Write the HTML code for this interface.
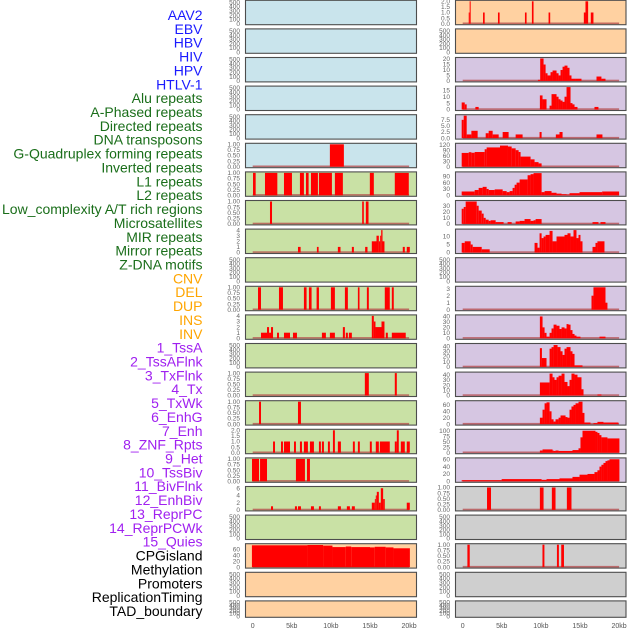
<!DOCTYPE html>
<html><head><meta charset="utf-8"><style>
html,body{margin:0;padding:0;background:#fff;width:630px;height:630px;overflow:hidden}
svg{display:block;font-family:"Liberation Sans",sans-serif}
</style></head><body>
<svg id="chart" width="630" height="630" viewBox="0 0 630 630"></svg>
<script>
const labels=["AAV2","EBV","HBV","HIV","HPV","HTLV-1","Alu repeats","A-Phased repeats","Directed repeats","DNA transposons","G-Quadruplex forming repeats","Inverted repeats","L1 repeats","L2 repeats","Low_complexity A/T rich regions","Microsatellites","MIR repeats","Mirror repeats","Z-DNA motifs","CNV","DEL","DUP","INS","INV","1_TssA","2_TssAFlnk","3_TxFlnk","4_Tx","5_TxWk","6_EnhG","7_Enh","8_ZNF_Rpts","9_Het","10_TssBiv","11_BivFlnk","12_EnhBiv","13_ReprPC","14_ReprPCWk","15_Quies","CPGisland","Methylation","Promoters","ReplicationTiming","TAD_boundary"];
const labelGroups=[6,13,5,15,5];
const groupColors=["#1a1aff","#1a6e1a","#ffa500","#a020f0","#000000"];
const xTicks=[0,5,10,15,20];
const xTickLabels=["0","5kb","10kb","15kb","20kb"];

const bars_L6=[[9.87,11.66,1]];
const bars_L7=[[0.04,0.38,1],[1.57,3.15,1],[4.0,5.02,1],[6.04,6.55,1],[6.81,7.15,1],[7.45,8.34,1],[8.47,10.13,1],[10.51,11.53,1],[14.98,15.49,1],[18.17,19.96,1]];
const bars_L8=[[2.21,2.47,1],[14.0,14.21,1],[14.47,14.81,1]];
const bars_L9=[[5.79,6.13,1],[8.21,8.43,1],[10.89,11.23,1],[12.68,12.94,1],[14.38,14.68,1],[15.23,15.83,2],[15.83,16.13,3],[16.13,16.3,2],[16.3,16.43,3],[16.43,16.6,4],[16.6,16.85,2],[19.19,19.45,1],[19.7,20.09,1]];
const bars_L11=[[0.68,1.06,1],[3.36,3.87,1],[6.55,6.89,1],[7.19,7.53,1],[8.17,8.47,1],[10.0,10.51,1],[11.79,12.17,1],[13.45,13.66,1],[14.6,14.85,1],[16.89,17.53,1],[17.79,18.04,1]];
const bars_L12=[[1.06,1.83,1],[1.83,2.09,2],[2.09,2.34,1],[2.34,2.6,2],[3.11,3.36,1],[4.0,4.77,1],[5.15,5.66,1],[8.85,9.36,1],[9.87,10.51,1],[11.53,11.79,2],[11.91,12.17,1],[12.3,12.68,1],[15.23,15.49,4],[15.49,15.7,3],[15.7,16.47,2],[16.47,16.85,3],[17.02,17.28,1],[17.79,19.57,1]];
const bars_L14=[[14.34,14.85,1],[18.17,18.43,1]];
const bars_L15=[[0.81,1.06,1],[5.79,6.17,1]];
const bars_L16=[[2.6,2.85,1],[3.62,3.87,1],[4.0,4.77,1],[5.28,5.53,1],[6.04,6.3,1],[6.55,7.06,1],[7.32,7.83,1],[8.47,8.72,1],[8.85,9.11,1],[9.62,9.87,1],[10.26,10.51,2],[10.89,11.28,1],[12.81,13.06,1],[13.45,13.7,1],[14.98,15.23,1],[15.74,16.13,1],[16.26,17.53,1],[18.17,18.43,1],[18.43,18.68,2],[18.94,19.45,1],[19.7,20.09,1]];
const bars_L17=[[-0.09,0.81,1],[0.94,1.83,1],[5.53,6.68,1],[6.94,7.32,1]];
const bars_L18=[[2.34,2.6,1],[5.4,5.66,1],[5.79,6.17,1],[7.45,7.83,1],[8.47,8.72,1],[10.89,11.28,1],[12.04,12.43,1],[12.68,13.06,1],[15.23,15.62,2],[15.62,15.74,3],[15.74,15.87,4],[15.87,16.13,5],[16.13,16.38,2],[16.38,16.68,6],[16.68,16.89,3],[19.7,20.09,2]];
const bars_L20=[[-0.1,7,73],[7,9,74],[9,10.2,72],[10.2,11.9,67],[11.9,12.6,69],[12.6,15,67],[15,15.6,66],[15.6,17,68],[17,18,66],[18,20.1,63]];
const bars_R1=[[0.77,0.89,1],[0.89,1.02,2],[2.6,2.81,1],[4.51,4.72,1],[7.96,8.17,1],[8.85,9.06,2],[10.98,11.19,1],[15.49,15.7,1],[15.7,16.04,2],[16.38,16.72,1]];
const bars_R3=[[9.62,9.91,1],[9.91,10.34,20.5],[10.34,10.6,15],[10.6,10.85,7],[10.85,11.23,5],[11.23,11.49,8],[11.49,12.0,9.5],[12.0,12.26,7],[12.26,12.51,5],[12.51,12.77,10],[12.77,13.02,13],[13.02,13.4,14],[13.4,13.66,12],[13.66,13.91,5],[13.91,14.43,2],[14.43,15.19,2],[17.11,17.74,4],[17.74,18.26,2]];
const bars_R4=[[-0.13,0.26,5.5],[0.26,0.51,4],[1.62,2.04,2],[9.87,10.21,11],[10.21,10.72,8],[11.11,11.36,3],[11.36,12.0,12],[12.0,12.26,10],[12.26,12.51,8],[12.51,12.77,7],[12.77,13.02,6],[13.02,13.28,10],[13.28,13.79,17.5],[13.79,14.04,5],[14.04,14.3,4],[14.3,14.68,2],[16.85,17.36,2]];
const bars_R5=[[-0.13,0.13,7.5],[0.13,0.51,9.2],[0.51,1.11,1.5],[1.11,1.91,3],[2.94,3.32,2],[3.32,3.83,3],[3.83,4.6,1.5],[5.11,5.87,2.5],[6.77,7.66,1.5],[9.83,10.09,2.5],[11.91,12.38,1.5],[12.38,12.77,2.5],[17.11,17.87,1.5]];
const bars_R6=[[-0.13,0.77,75],[0.77,1.11,79],[1.11,1.53,76],[1.53,2.81,80],[2.81,3.06,95],[3.06,4.77,105],[4.77,5.79,115],[5.79,6.26,110],[6.26,6.77,100],[6.77,7.15,90],[7.15,7.4,80],[7.4,8.68,55],[8.68,9.19,40],[9.19,9.7,25],[9.7,10.09,18]];
const bars_R7=[[-0.13,1.53,18],[1.53,2.04,25],[2.04,2.55,35],[2.55,3.06,40],[3.06,3.32,30],[3.32,4.09,25],[4.09,5.11,28],[5.11,5.62,20],[5.62,6.0,15],[6.0,6.38,20],[6.38,6.64,35],[6.64,6.89,50],[6.89,7.28,60],[7.28,8.3,75],[8.3,8.68,95],[8.68,9.06,100],[9.06,10.09,105],[10.09,10.47,15],[10.47,11.36,20],[11.36,12.0,12],[12.0,12.64,8],[12.64,13.28,5],[13.28,13.66,3],[13.66,14.94,10],[14.94,17.83,15],[17.83,20.0,18]];
const bars_R8=[[-0.13,0.13,25],[0.13,0.38,28],[0.38,1.79,37],[1.79,2.04,30],[2.04,2.43,22],[2.43,2.68,17],[2.68,2.94,10],[2.94,3.32,7],[3.32,3.57,5],[3.57,4.21,6],[4.21,5.23,3],[5.74,6.26,3],[6.77,7.28,4],[7.28,7.91,5],[7.91,8.68,8],[8.68,9.06,5],[9.06,9.32,6],[9.32,10.09,8],[16.6,17.36,3],[17.62,18.26,3]];
const bars_R9=[[-0.13,0.26,6],[0.26,1.02,7],[1.02,1.28,5],[1.28,2.43,3.5],[2.43,3.45,2],[9.19,9.57,6],[9.57,9.83,3],[9.83,10.09,12],[10.09,10.34,9],[10.34,10.6,10],[10.6,11.11,11],[11.11,11.49,13.5],[11.49,12.0,7],[12.0,13.02,10],[13.02,13.4,11],[13.4,13.79,12],[13.79,14.17,10],[14.17,14.55,14],[14.55,14.81,9],[14.81,15.06,11],[15.06,15.32,7],[16.6,16.98,3.5],[16.98,17.23,6],[17.23,18.13,7]];
const bars_R11=[[16.47,16.72,2],[16.72,18.26,3.2],[18.26,18.51,1]];
const bars_R12=[[9.87,10.21,40],[10.21,10.47,20],[10.47,10.72,10],[10.72,11.11,3],[11.11,11.36,10],[11.36,11.62,18],[11.62,12.0,25],[12.0,12.38,23],[12.38,12.64,17],[12.64,13.02,20],[13.02,13.28,18],[13.28,13.53,26],[13.53,13.79,25],[13.79,14.04,15],[14.04,14.3,8],[14.3,14.55,5],[14.55,15.06,3],[17.49,18.26,3]];
const bars_R13=[[9.87,10.13,36],[10.13,10.72,17],[11.11,11.36,35],[11.36,11.62,38],[11.62,12.13,42],[12.13,12.51,38],[12.51,12.77,30],[12.77,13.02,23],[13.02,13.28,35],[13.28,13.79,38],[13.79,14.04,30],[14.04,14.3,25],[14.3,15.32,3]];
const bars_R14=[[9.87,11.11,25],[11.11,11.49,42],[11.49,11.74,35],[11.74,12.0,30],[12.0,12.26,35],[12.26,12.64,38],[12.64,13.02,42],[13.02,13.4,26],[13.4,13.66,18],[13.66,13.91,30],[13.91,14.3,42],[14.3,14.68,40],[14.68,15.19,35],[15.19,15.45,12],[17.23,17.74,2]];
const bars_R15=[[9.87,10.21,20],[10.21,10.47,45],[10.47,10.72,65],[10.72,11.11,68],[11.11,11.36,40],[11.36,11.62,15],[11.62,11.87,8],[11.87,12.26,15],[12.26,12.51,20],[12.51,13.15,27],[13.15,13.4,22],[13.4,13.66,20],[13.66,13.91,45],[13.91,14.17,55],[14.17,14.43,60],[14.43,14.81,65],[14.81,15.32,70],[15.32,15.57,35],[15.57,16.34,5],[16.72,17.23,3],[17.23,18.0,7],[18.0,19.91,5]];
const bars_R16=[[9.87,10.21,10],[10.21,11.49,15],[11.49,11.62,10],[11.62,11.87,8],[11.87,12.26,10],[12.26,14.04,8],[14.04,14.81,12],[14.81,15.06,20],[15.06,15.32,70],[15.32,16.98,100],[16.98,17.23,95],[17.23,17.49,90],[17.49,17.74,80],[17.74,18.51,70],[18.51,20.04,65]];
const bars_R17=[[-0.13,4.98,3],[4.98,10.09,6],[10.09,10.72,4],[10.72,12.38,6],[12.38,14.04,8],[14.04,14.94,12],[14.94,15.96,18],[15.96,16.85,20],[16.85,17.23,25],[17.23,17.49,30],[17.49,17.74,40],[17.74,18.0,45],[18.0,18.26,50],[18.26,18.51,55],[18.51,18.77,57],[18.77,20.04,60]];
const bars_R18=[[3.11,3.62,1],[9.87,10.34,1],[11.4,11.87,1],[13.32,13.91,1]];
const bars_R20=[[0.6,0.9,1],[10.2,10.45,1],[12.05,12.3,1],[12.6,12.95,1]];

const T01=[[0,0.25,0.5,0.75,1],["0.00","0.25","0.50","0.75","1.00"]];
const T500=[[0,100,200,300,400,500],["0","100","200","300","400","500"]];
const T2=[[0,0.5,1,1.5,2],["0.0","0.5","1.0","1.5","2.0"]];
const BLUE="#c9e4ec",GREEN="#c9e1a5",PEACH="#ffd1a1",LAV="#d6c6e2",GREY="#cfcfcf";
// [col,row,bg,ymax,ticks,bars,name]
const panels=[
[0,0,BLUE,520,T500,null,"aav2"],[0,1,BLUE,520,T500,null,"ebv"],[0,2,BLUE,520,T500,null,"hbv"],[0,3,BLUE,520,T500,null,"hiv"],[0,4,BLUE,520,T500,null,"hpv"],
[0,5,BLUE,1,T01,bars_L6,"htlv-1"],
[0,6,GREEN,1,T01,bars_L7,"alu"],[0,7,GREEN,1,T01,bars_L8,"a-phased"],[0,8,GREEN,4,[[0,1,2,3,4],["0","1","2","3","4"]],bars_L9,"directed"],
[0,9,GREEN,520,T500,null,"dna-transposons"],[0,10,GREEN,1,T01,bars_L11,"g-quadruplex"],[0,11,GREEN,4,[[0,1,2,3,4],["0","1","2","3","4"]],bars_L12,"inverted"],
[0,12,GREEN,520,T500,null,"l1"],[0,13,GREEN,1,T01,bars_L14,"l2"],[0,14,GREEN,1,T01,bars_L15,"low-complexity"],[0,15,GREEN,2,T2,bars_L16,"microsatellites"],
[0,16,GREEN,1,T01,bars_L17,"mir"],[0,17,GREEN,6.2,[[0,2,4,6],["0","2","4","6"]],bars_L18,"mirror"],[0,18,GREEN,520,T500,null,"z-dna"],
[0,19,PEACH,75,[[0,20,40,60],["0","20","40","60"]],bars_L20,"cnv"],[0,20,PEACH,520,T500,null,"del"],[0,21,PEACH,520,T500,null,"dup"],
[1,0,PEACH,2,T2,bars_R1,"ins"],[1,1,PEACH,520,T500,null,"inv"],
[1,2,LAV,20.5,[[0,5,10,15,20],["0","5","10","15","20"]],bars_R3,"tssa"],[1,3,LAV,17.5,[[0,5,10,15],["0","5","10","15"]],bars_R4,"tssaflnk"],
[1,4,LAV,9.2,[[0,2.5,5,7.5],["0.0","2.5","5.0","7.5"]],bars_R5,"txflnk"],[1,5,LAV,122,[[0,30,60,90,120],["0","30","60","90","120"]],bars_R6,"tx"],
[1,6,LAV,106,[[0,30,60,90],["0","30","60","90"]],bars_R7,"txwk"],[1,7,LAV,37,[[0,10,20,30],["0","10","20","30"]],bars_R8,"enhg"],
[1,8,LAV,14,[[0,5,10],["0","5","10"]],bars_R9,"enh"],[1,9,LAV,520,T500,null,"znf-rpts"],[1,10,LAV,3.2,[[0,1,2,3],["0","1","2","3"]],bars_R11,"het"],
[1,11,LAV,41,[[0,10,20,30,40],["0","10","20","30","40"]],bars_R12,"tssbiv"],[1,12,LAV,43,[[0,10,20,30,40],["0","10","20","30","40"]],bars_R13,"bivflnk"],
[1,13,LAV,43,[[0,10,20,30,40],["0","10","20","30","40"]],bars_R14,"enhbiv"],[1,14,LAV,70,[[0,20,40,60],["0","20","40","60"]],bars_R15,"reprpc"],
[1,15,LAV,102,[[0,25,50,75,100],["0","25","50","75","100"]],bars_R16,"reprpcwk"],[1,16,LAV,61,[[0,20,40,60],["0","20","40","60"]],bars_R17,"quies"],
[1,17,GREY,1,T01,bars_R18,"cpgisland"],[1,18,GREY,520,T500,null,"methylation"],[1,19,GREY,1,T01,bars_R20,"promoters"],
[1,20,GREY,520,T500,null,"replication-timing"],[1,21,GREY,520,T500,null,"tad-boundary"]
];
const NS="http://www.w3.org/2000/svg";
const svg=document.getElementById("chart");
function mk(tag,attrs,parent){const e=document.createElementNS(NS,tag);for(const k in attrs)e.setAttribute(k,attrs[k]);(parent||svg).appendChild(e);return e;}
const colX=[[245.5,416.5],[455.5,626]];
const x0=[252.7,462.7];
const kbPx=7.82;
function xScale(col,kb){return x0[col]+kb*kbPx;}
function rowTop(r){return 0.3+r*28.6;}
function rowH(r){return r===21?16.4:24.4;}

// labels
let li=0;
labelGroups.forEach((n,g)=>{for(let k=0;k<n;k++){const t=mk("text",{x:202.5,y:20+li*13.86,"text-anchor":"end","font-size":"14",fill:groupColors[g]});


t.textContent=labels[li];li++;}});

panels.forEach(p=>{
 const [col,row,bg,ymax,ticks,bars,name]=p;
 const top=rowTop(row),h=rowH(row),bot=top+h;
 const g=mk("g",{});
 
 
 mk("rect",{x:colX[col][0],y:top,width:colX[col][1]-colX[col][0],height:h,fill:bg},g);
 const yS=v=>bot-1-(v/ymax)*(h-2);
 ticks[0].forEach((v,i)=>{const t=mk("text",{x:colX[col][0]-5.5,y:yS(v)+2.2,"text-anchor":"end","font-size":"6.5",fill:"#666"},g);
  
  
  t.textContent=ticks[1][i];});
 if(bars){
  mk("rect",{x:xScale(col,0),y:bot-2.2,width:20*kbPx,height:1.6,fill:"#b4484a",opacity:0.75},g);
  bars.forEach(b=>{const y=yS(b[2]);const r=mk("rect",{x:xScale(col,b[0]),y:y,width:Math.max(0.8,(b[1]-b[0])*kbPx),height:bot-1-y,fill:"#ff0000"},g);
   
   });
 }
 mk("rect",{x:colX[col][0],y:top,width:colX[col][1]-colX[col][0],height:h,fill:"none",stroke:"#4d4d4d","stroke-width":1.1},g);
});
// x axes
[0,1].forEach(col=>{xTicks.forEach((v,i)=>{const t=mk("text",{x:xScale(col,v),y:628,"text-anchor":"middle","font-size":"7",fill:"#555"});
 
 
 t.textContent=xTickLabels[i];});});
</script>
</body></html>
